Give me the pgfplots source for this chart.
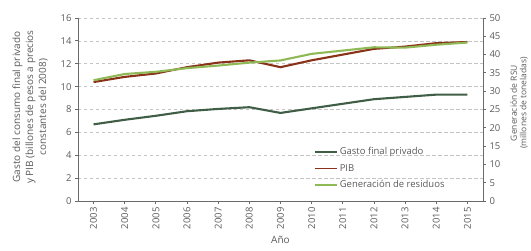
\documentclass[border=0pt]{standalone}
\usepackage{pgfplots}
\pgfplotsset{compat=1.18}
\usepackage{fontspec}
\setmainfont{Open Sans}
\definecolor{gasto}{HTML}{3F5E45}
\definecolor{pib}{HTML}{8A3219}
\definecolor{resid}{HTML}{8FB957}
\definecolor{txt}{HTML}{5A5A5A}
\definecolor{axl}{HTML}{6A6A6A}
\definecolor{grd}{HTML}{C4C4C4}
\begin{document}
\begin{tikzpicture}
\pgfplotsset{
  common/.style={
    scale only axis, width=405pt, height=183pt,
    xmin=2002.5, xmax=2015.5,
    tick align=outside,
    major tick length=3pt,
    tick style={axl, line width=0.8pt},
    axis line style={axl, line width=0.9pt},
    /pgf/number format/assume math mode=true,
    /pgf/number format/1000 sep={},
    tick label style={font=\fontsize{9.5}{11}\selectfont, text=txt},
  }
}
\begin{axis}[common,
  name=ax,
  axis x line*=bottom, axis y line*=left,
  ymin=0, ymax=16, ytick={0,2,...,16},
  xtick={2003,...,2015},
  x tick label style={rotate=90, anchor=east},
  ymajorgrids, grid style={grd, line width=0.7pt, dash pattern=on 3.5pt off 2.5pt},
  xlabel={A\~no}, xlabel style={font=\fontsize{10}{12}\selectfont, text=txt, yshift=0pt},
]
\addplot[gasto, line width=2.1pt] coordinates {
(2003,6.7)(2004,7.1)(2005,7.45)(2006,7.85)(2007,8.05)(2008,8.2)(2009,7.7)(2010,8.1)(2011,8.5)(2012,8.9)(2013,9.1)(2014,9.3)(2015,9.3)};
\addplot[pib, line width=2.1pt] coordinates {
(2003,10.4)(2004,10.85)(2005,11.15)(2006,11.7)(2007,12.1)(2008,12.3)(2009,11.7)(2010,12.3)(2011,12.8)(2012,13.3)(2013,13.5)(2014,13.8)(2015,13.9)};
\end{axis}
\begin{axis}[common,
  axis x line=none, axis y line*=right,
  ymin=0, ymax=50, ytick={0,5,...,50},
  legend style={at={(0.918,0.04)}, anchor=south east, draw=none, fill=none,
    font=\fontsize{9.5}{11}\selectfont, text=txt, row sep=4pt,
    /tikz/every even column/.append style={column sep=3pt}},
  legend cell align=left,
  legend image code/.code={\draw[#1] (0pt,0pt) -- (22pt,0pt);},
]
\addlegendimage{gasto, line width=1.6pt}
\addlegendentry{Gasto final privado}
\addlegendimage{pib, line width=1.6pt}
\addlegendentry{PIB}
\addplot[resid, line width=2.1pt] coordinates {
(2003,33.0)(2004,34.7)(2005,35.3)(2006,36.3)(2007,37.0)(2008,37.8)(2009,38.4)(2010,40.2)(2011,41.1)(2012,42.0)(2013,41.9)(2014,42.7)(2015,43.3)};
\addlegendentry{Generaci\'on de residuos}
\end{axis}
\node[rotate=90, align=center, text=txt, font=\fontsize{10}{13}\selectfont, anchor=center]
  at ([shift={(-48pt,94pt)}]ax.south west)
  {Gasto del consumo final privado\\y PIB (billones de pesos a precios\\constantes del 2008)};
\node[rotate=90, align=center, text=txt, font=\fontsize{8.5}{9.5}\selectfont, anchor=center]
  at ([shift={(441pt,98pt)}]ax.south west)
  {Generaci\'on de RSU\\(millones de toneladas)};
\pgfresetboundingbox
\path ([shift={(-78pt,-50pt)}]ax.south west) rectangle ++(531pt,251pt);
\end{tikzpicture}
\end{document}
